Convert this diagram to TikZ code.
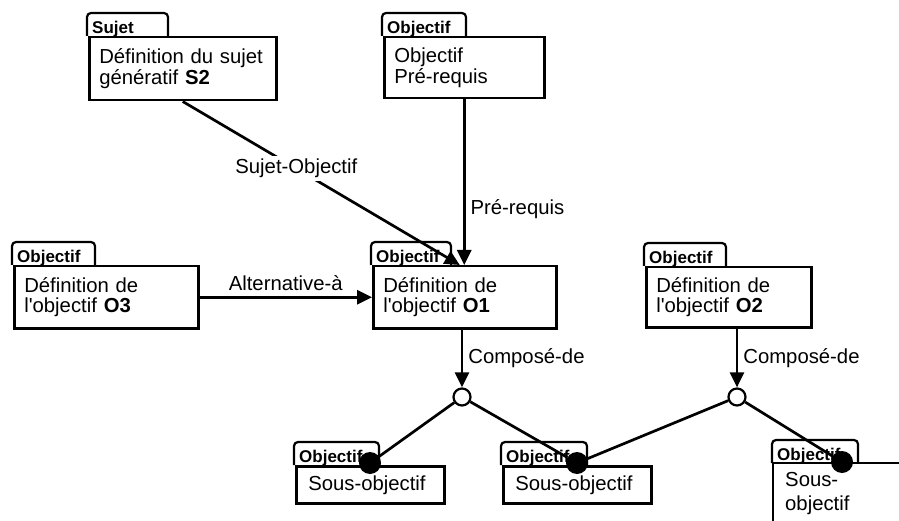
\documentclass[tikz,border=0pt]{standalone}
\usepackage{fontspec}
\setmainfont{Liberation Sans}[Ligatures=TeXOff]
\usetikzlibrary{arrows.meta}

% tab on top of a box: #1 box node, #2 name of the tab label, #3 tab text, #4 tab width
\newcommand\drawtab[4]{%
  \draw[tabline] ([xshift=-1pt]#1.north west) -- ++(0,-23) -- ++(#4,0) -- ++(0,23);
  \node[tablabel] (#2) at ([xshift=4pt,yshift=2.5pt]#1.north west) {#3};
}

\begin{document}
\begin{tikzpicture}[x=1pt,y=-1pt,
  boxline/.style={line width=2.5pt},
  txt/.style={font=\fontsize{20.3}{20.5}\selectfont},
  objbox/.style={draw, boxline, txt, rectangle, anchor=north west,
    inner xsep=10pt, inner ysep=0pt, align=left},
  tabline/.style={line width=2.2pt, rounded corners=4pt},
  tablabel/.style={anchor=base west, inner sep=0pt,
    font=\fontsize{17}{17}\selectfont\bfseries},
  conn/.style={line width=2.7pt},
  arrow/.style={conn, -{Triangle[length=15pt,width=14pt]}},
  lbl/.style={txt, inner sep=5pt},
  junction/.style={circle, draw, fill=white, line width=2.2pt, inner sep=0pt, minimum size=17pt},
  anchorpt/.style={circle, fill=black, inner sep=0pt, minimum size=22pt},
]
\useasboundingbox (0,0) rectangle (899,521);
\clip (0,0) rectangle (899,521);

% boxes
\node[objbox, minimum width=187pt, minimum height=63pt, text width=167pt] (sujet) at (88,36)
  {Définition du sujet\\génératif \textbf{S2}};
\node[objbox, minimum width=160pt, minimum height=61pt, text width=140pt] (prereq) at (383,36)
  {Objectif\\Pré-requis};
\node[objbox, minimum width=184pt, minimum height=62pt, text width=164pt] (o3) at (13,265)
  {Définition de\\l'objectif \textbf{O3}};
\node[objbox, minimum width=183pt, minimum height=62pt, text width=163pt] (o1) at (372,265)
  {Définition de\\l'objectif \textbf{O1}};
\node[objbox, minimum width=165pt, minimum height=60pt, text width=145pt] (o2) at (645,266)
  {Définition de\\l'objectif \textbf{O2}};
\node[objbox, inner xsep=12pt, minimum width=148pt, minimum height=37pt, text width=124pt] (sous1) at (295,465)
  {Sous-objectif};
\node[objbox, inner xsep=12pt, minimum width=148pt, minimum height=37pt, text width=124pt] (sous2) at (502,465)
  {Sous-objectif};
\node[txt, anchor=north west, inner xsep=12pt, inner ysep=9pt, align=left] (sous3) at (773,463)
  {Sous-\\[4pt]objectif};
\coordinate (s3bottom) at (773,540);
\coordinate (s3right) at (920,463);
\draw[boxline] (sous3.north west |- s3bottom) -- (sous3.north west) -- (s3right);

% tabs
\drawtab{sujet}{sujettab}{Sujet}{81}
\drawtab{prereq}{prereqtab}{Objectif}{84}
\drawtab{o3}{o3tab}{Objectif}{83}
\drawtab{o1}{o1tab}{Objectif}{80}
\drawtab{o2}{o2tab}{Objectif}{82}
\drawtab{sous1}{sous1tab}{Objectif}{85}
\drawtab{sous2}{sous2tab}{Objectif}{86}
\drawtab{sous3}{sous3tab}{Objectif}{86}

% composition points
\node[junction] (c1) at (462,397) {};
\node[junction] (c2) at (737,397) {};
\node[anchorpt] (d1) at (370,463) {};
\node[anchorpt] (d2) at (577,463) {};
\node[anchorpt] (d3) at (842,462) {};

% relations
\draw[arrow] (sujet.south) -- ([xshift=-5pt]o1.north)
  node[lbl, pos=0.41, fill=white, inner sep=3pt] {Sujet-Objectif};
\draw[arrow] (prereq.south) -- (prereq.south |- o1.north)
  node[lbl, pos=0.66, right] {Pré-requis};
\draw[arrow] (o3.east) -- (o1.west)
  node[lbl, midway, above] {Alternative-à};
\draw[arrow] (o1.south -| c1) -- (c1)
  node[lbl, pos=0.5, right] {Composé-de};
\draw[arrow] (o2.south -| c2) -- (c2)
  node[lbl, pos=0.5, right] {Composé-de};
\draw[conn] (c1) -- (d1);
\draw[conn] (c1) -- (d2);
\draw[conn] (c2) -- (d2);
\draw[conn] (c2) -- (d3);
\end{tikzpicture}
\end{document}
